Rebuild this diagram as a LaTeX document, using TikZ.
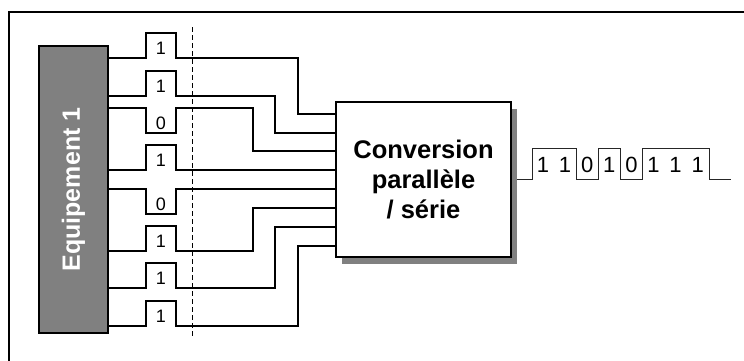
\documentclass[tikz,border=0pt]{standalone}
\usepackage{fontspec}
\setmainfont{Liberation Sans}
\usepackage{tikz}
\usetikzlibrary{calc, shadows, backgrounds}

\begin{document}
\begin{tikzpicture}[x=1pt, y=-1pt,
  wire/.style={line width=1.2pt},
  serial/.style={line width=0.9pt, black!85},
  bit/.style={font=\fontsize{18}{18}\selectfont, inner sep=0pt},
  sbit/.style={font=\fontsize{22}{22}\selectfont, inner sep=0pt}]
\clip (0,0) rectangle (744,360);
\draw[line width=2pt] (9,12) rectangle (760,380);
\node[draw, line width=2.2pt, fill=gray, minimum width=69pt, minimum height=287pt] (eq) at (73.5,189.5) {};
\node[rotate=90, text=white, font=\bfseries\fontsize{25}{25}\selectfont] (eqlabel) at (eq) {Equipement 1};
\node[draw, line width=1.5pt, fill=white, minimum width=175pt, minimum height=155pt,
  drop shadow={shadow xshift=6pt, shadow yshift=-7pt, fill=gray, opacity=1},
  align=center, font=\bfseries\fontsize{25.5}{30}\selectfont] (conv) at (423.5,179.5) {Conversion\\parallèle\\/ série};
\draw[dash pattern=on 5pt off 3pt, line width=0.9pt] (192,27) -- (192,337);
\foreach \i/\ys/\b/\xb/\ye in {1/58/1/298/114, 2/96/1/275/133, 3/108/0/253/151, 4/170/1/300/170,
    5/189/0/300/189, 6/251/1/253/208, 7/288/1/275/227, 8/326/1/298/246} {
  \pgfmathsetmacro{\yp}{\ys-25+50*(1-\b)}
  \coordinate (out\i) at (eq.east |- 0,\ys);
  \coordinate (in\i) at (conv.west |- 0,\ye);
  \draw[wire] (out\i) -- (146,\ys) -- (146,\yp) -- (176,\yp) -- (176,\ys) -- (\xb,\ys) |- (in\i);
  \node[bit] (bit\i) at (161,{(\ys+\yp)/2+3}) {\b};
}
\begin{scope}[on background layer]
\draw[serial] (conv.east) -- (532,179.5) |- (576,148) |- (598,179.5) |- (620,148)
  |- (642,179.5) |- (709,148) |- (731,179.5);
\end{scope}
\foreach \k/\b in {0/1,1/1,2/0,3/1,4/0,5/1,6/1,7/1}
  \node[sbit] (sbit\k) at ({543+22.1*\k},165) {\b};
\end{tikzpicture}
\end{document}
